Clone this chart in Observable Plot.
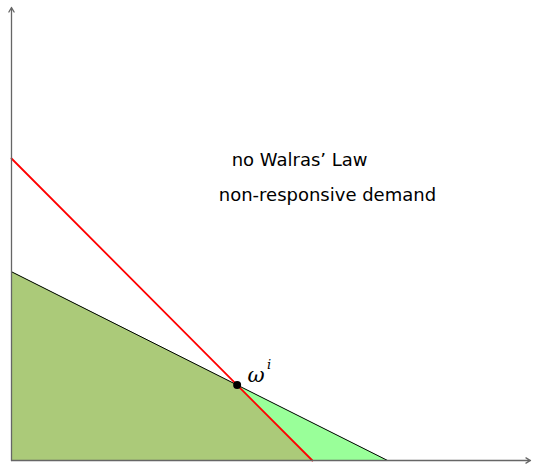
<!DOCTYPE html>
<html><head><meta charset="utf-8">
<script src="https://cdn.jsdelivr.net/npm/d3@7"></script>
<script src="https://cdn.jsdelivr.net/npm/@observablehq/plot@0.6"></script>
<style>body{margin:0;background:#fff}</style>
</head><body><div id="chart"></div>
<script>
// Budget line (black): from (0,5) to (10,0)
const budgetX = [0, 10];
const budgetY = [5, 0];
// Red line through endowment: from (0,8) to (8,0)
const redX = [0, 8];
const redY = [8, 0];
// Endowment point
const endowX = [6];
const endowY = [2];
// Texts
const labels = ["no Walras\u2019 Law", "non-responsive demand"];
const labelX = [7.66, 8.4];
const labelY = [7.95, 7.02];

const budget = budgetX.map((x, i) => ({x, y: budgetY[i]}));
const red = redX.map((x, i) => ({x, y: redY[i]}));
const olive = [{x: 0, y: 5}, {x: endowX[0], y: endowY[0]}, {x: redX[1], y: 0}];
const endow = endowX.map((x, i) => ({x, y: endowY[i]}));
const text = labels.map((t, i) => ({t, x: labelX[i], y: labelY[i]}));

const chart = Plot.plot({
  width: 537, height: 465,
  marginLeft: 11, marginRight: 7, marginTop: 7, marginBottom: 5,
  x: {domain: [0, 13.8], axis: null},
  y: {domain: [0, 12], axis: null},
  marks: [
    Plot.areaY(budget, {x: "x", y: "y", fill: "#99ff99"}),
    Plot.areaY(olive, {x: "x", y: "y", fill: "#abca79"}),
    Plot.line(budget, {x: "x", y: "y", stroke: "#000", strokeWidth: 1}),
    Plot.line(red, {x: "x", y: "y", stroke: "#ff0000", strokeWidth: 1.8}),
    Plot.arrow([{x1: 0, y1: 0, x2: 0, y2: 12}], {x1: "x1", y1: "y1", x2: "x2", y2: "y2", stroke: "#666", strokeWidth: 1.3, headLength: 6}),
    Plot.arrow([{x1: 0, y1: 0, x2: 13.8, y2: 0}], {x1: "x1", y1: "y1", x2: "x2", y2: "y2", stroke: "#666", strokeWidth: 1.3, headLength: 6}),
    Plot.dot(endow, {x: "x", y: "y", r: 4, fill: "#000"}),
    Plot.text(endow, {x: "x", y: "y", text: () => "ω", dx: 19, dy: -10, fontSize: 21, fontStyle: "italic", fontFamily: "DejaVu Serif"}),
    Plot.text(endow, {x: "x", y: "y", text: () => "i", dx: 32, dy: -20, fontSize: 13, fontStyle: "italic", fontFamily: "DejaVu Serif"}),
    Plot.text(text, {x: "x", y: "y", text: "t", fontSize: 18, fontFamily: "DejaVu Sans", fill: "#000"})
  ]
});
document.getElementById("chart").appendChild(chart);
</script>
</body></html>
